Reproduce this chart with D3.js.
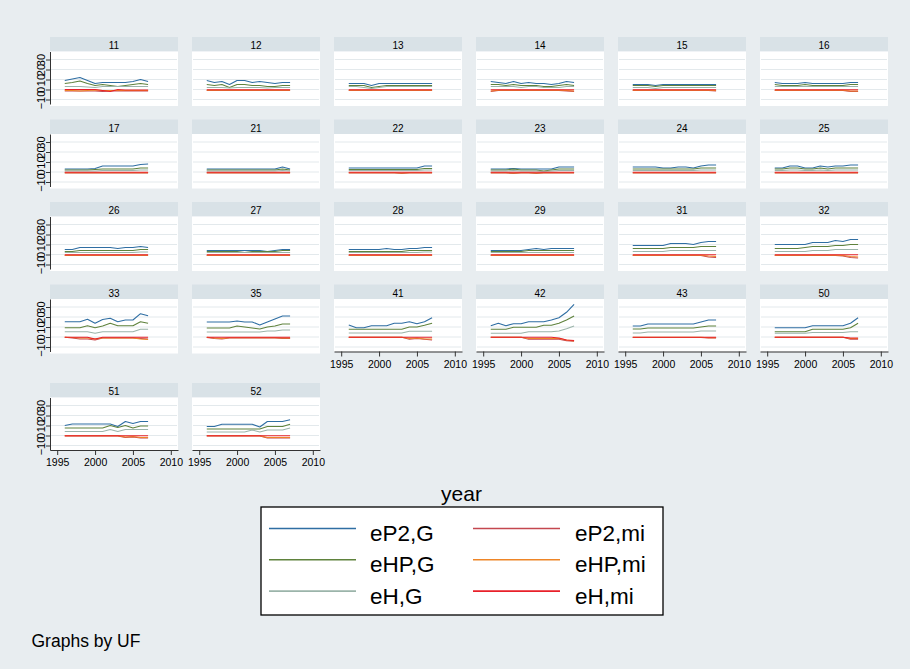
<!DOCTYPE html>
<html>
<head>
<meta charset="utf-8">
<script src="https://cdn.jsdelivr.net/npm/d3@7"></script>
<style>
  body { margin: 0; background: #e8edf0; }
  svg { display: block; }
  text { font-family: "Liberation Sans", Arial, sans-serif; fill: #000; }
</style>
</head>
<body>
<svg id="chart" width="910" height="669"></svg>
<script>
// Panel labels (UF codes), in by-group order
const ufs = ["11","12","13","14","15","16","17","21","22","23","24","25","26","27","28","29","31","32","33","35","41","42","43","50","51","52"];
const years = [1996,1997,1998,1999,2000,2001,2002,2003,2004,2005,2006,2007];
const xTicks = [1995, 2000, 2005, 2010];
const yTicks = [-10, 0, 10, 20, 30];
const seriesNames = ["eP2,G", "eHP,G", "eH,G", "eP2,mi", "eHP,mi", "eH,mi"];
const seriesColors = ["#2f6ea3", "#5f823c", "#9bb4aa", "#c4474f", "#ee8527", "#e8202a"];

// One row of 12 yearly values per UF, same order as ufs
const eP2_G = [
  [9,10.5,12,9,6,7,7,7,7,8,10,8],
  [9,7,8,5,9,9,7,8,7,6,7,7],
  [6,6,6,4,6,6,6,6,6,6,6,6],
  [8,7,6,8,6,7,6,6,5,6,8,7],
  [5,5,5,4,5,5,5,5,5,5,5,5],
  [7,6,6,6,7,6,6,6,6,6,7,7],
  [3,3,3,3,3.5,6,6,6,6,6,7.5,8],
  [3,3,3,3,3,3,3,3,3,3,5,3],
  [4,4,4,4,4,4,4,4,4,4,6,6],
  [3,3,3,3.5,3,3,3,3,3,5,5,5],
  [5,5,5,5,4,4,5,5,4,6,7,7],
  [4,4,6,6,4,4,6,5,6,6,7,7],
  [5,5,7,7,7,7,7,6,7,7,8,7],
  [4,4,4,4,4,4,4,4,3,4,5,5],
  [5,5,5,5,5,6,5,5,6,6,7,7],
  [4,4,4,4,4,5,6,5,6,6,6,6],
  [9,9,9,9,9,11,11,11,10,12,13,13],
  [10,10,10,10,10,12,12,12,14,13,15,15],
  [15.3,15.3,15.3,17.7,13.7,17.5,18.7,15.3,17,17,23.3,21.3],
  [15,15,15,15,16,15,15,12,15,18,21,21],
  [12,9.3,9.3,11.3,11.3,11.3,13.7,13.7,15.3,13.3,15.3,19.3],
  [11.3,13.7,11.3,13.3,13.3,15.3,15.3,15.3,17,19.3,24.7,32.7],
  [11,11,13,13,13,13,13,13,13,15,17,17],
  [9.3,9.3,9.3,9.3,9.3,11.3,11.3,11.3,11.3,11.3,13.7,19.3],
  [10,11.5,11.5,11.5,11.5,11.5,11.5,9,14,12,14,14],
  [9,9,11.3,11.3,11.3,11.3,11.3,8.5,14,14,14,15.8]
];
const eHP_G = [
  [6,7,8.5,6,4,5,4,3,4,5,6,5],
  [5,4,5,2,5,5,4,4,3,3,4,4],
  [4,4,4,2,3,4,4,4,4,4,4,4],
  [5,5,4,5,4,4,4,3,3,4,5,4],
  [4,4,4,3,4,4,4,4,4,4,4,4],
  [5,4,4,4,5,4,4,4,4,4,5,5],
  [2,2,2,2,2.5,3,3,3,3,3,4,4],
  [2,2,2,2,2,2,2,2,2,2,3,2],
  [2.5,2.5,2.5,2.5,2.5,2.5,2.5,2.5,2.5,2.5,3.5,3.5],
  [2,2,2,3,2,2,2,1,2,3,3,3],
  [3,3,3,3,3,3,3,3,3,4,4,4],
  [3,3,4,4,3,3,4,3,4,4,4,4],
  [3,3,4,4,4,4,4,4,4,4,5,5],
  [3,3,3,3,3,2,3,3,3,3,4,4],
  [3,3,3,3,3,3,3,3,4,4,4,4],
  [3,3,3,3,3,4,4,4,4,4,4,4],
  [6,6,6,6,6,7,7,7,7,8,8,8],
  [6,6,6,6,7,8,8,8,9,9,10,10],
  [9.3,9.3,9.3,11.3,9.3,11,13.7,11.3,11.3,11.3,15.3,13.7],
  [9,9,9,9,11,10,9,8,10,11,13,13],
  [7.7,7.7,7.7,7.7,7.7,7.7,7.7,7.7,10,10,11.7,13.7],
  [7.7,7.7,7.7,9.7,9.7,9.7,9.7,11.7,11.7,13.7,17,21],
  [8,8,9,9,9,9,9,9,9,10,11,11],
  [5.3,5.3,5.3,5.3,5.3,7.7,7.7,7.7,7.7,7.7,9.3,13.7],
  [7.5,7.5,7.5,7.5,7.5,7.5,10,8,10,7.5,9.5,9.5],
  [6.5,6.5,6.5,6.5,6.5,6.5,6.5,6.5,9,9,9,11.3]
];
const eH_G = [
  [3,3,3,2.5,2,3,3,3,3,3,3,3],
  [2,2,2,1.5,2,2,2,2,1.5,2,2,2],
  [3,3,2,1,2,3,3,3,3,3,3,3],
  [3,3,3,3,2,3,3,2,2,2,3,3],
  [2,2,2,1,2,2,2,2,2,2,2,2],
  [3,3,3,3,3,3,3,3,3,3,3,3],
  [1,1,1,1,1,1.5,1.5,1.5,1.5,1.5,2,2],
  [1,1,1,1,1,1,1,1,1,1,1.5,1],
  [1.5,1.5,1.5,1.5,1.5,1.5,1.5,1.5,1.5,1.5,2,2],
  [1,1,1,1.5,1,1,1,0.5,1,1.5,1.5,1.5],
  [1.5,1.5,1.5,1.5,1.5,1.5,1.5,1.5,1.5,2,2,2],
  [1.5,1.5,2,2,1.5,1.5,2,1.5,2,2,2,2],
  [2,2,2,2,2,2,2,2,2,2,2.5,2.5],
  [2,2,2,2,2,2,2,2,2,2,2,2],
  [2,2,2,2,2,2,2,2,2,2,2.5,2.5],
  [2,2,2,2,2,2,2,2,2,2,2,2],
  [3,3,3,3,3,4,4,4,4,4,4,4],
  [3,3,3,3,3,4,4,4,5,5,5,5],
  [5.3,5.3,5.3,5.3,3.7,5.3,5.3,5.3,5.3,5.3,7.7,7.7],
  [5,5,5,5,5,5,5,5,6,6,7,7],
  [4,4,4,4,4,4,4,4,5.7,5.7,5.7,5.7],
  [3.7,3.7,3.7,3.7,3.7,5.3,5.3,5.3,5.3,6,8.3,11],
  [4,4,5,5,5,5,5,5,5,6,6,6],
  [3.7,3.7,3.7,3.7,3.7,4.5,4.5,4.5,4.5,4.5,5.3,5.3],
  [4,4,4,4,4,4,6,4,6,6,6,6],
  [3.5,3.5,3.5,3.5,3.5,3.5,5.5,3.5,5.5,5.5,5.5,7.5]
];
const eP2_mi = [
  [-1.5,-1.5,-1.5,-1.5,-1.5,-2,-1.5,-1.5,-1.5,-1.5,-1.5,-1.5],
  [-1,-1,-1,-1,-1,-1,-1,-1,-1,-1,-1,-1],
  [-1,-1,-1,-1,-1,-1,-1,-1,-1,-1,-1,-1],
  [-2,-1,-1,-1,-1,-1,-1,-1,-1,-1,-1.5,-2],
  [-1,-1,-1,-1,-1,-1,-1,-1,-1,-1,-1,-1.5],
  [-1,-1,-1,-1,-1,-1,-1,-1,-1,-1,-2,-2],
  [-1,-1,-1,-1,-1,-1,-1,-1,-1,-1,-1,-1],
  [-1,-1,-1,-1,-1,-1,-1,-1,-1,-1,-1,-1],
  [-1,-1,-1,-1,-1,-1,-1,-1.5,-1,-1,-1,-1],
  [-1,-1,-1,-1.5,-1,-1,-1.5,-1,-1,-1,-1,-1],
  [-1,-1,-1,-1,-1,-1,-1,-1,-1,-1,-1,-1],
  [-1,-1,-1,-1,-1,-1,-1,-1,-1,-1,-1,-1],
  [-1,-1,-1,-1,-1,-1,-1,-1,-1,-1,-1,-1],
  [-1,-1,-1,-1,-1,-1,-1,-1,-1,-1,-1,-1],
  [-1,-1,-1,-1,-1,-1,-1,-1,-1,-1,-1,-1],
  [-1,-1,-1,-1,-1,-1,-1,-1,-1,-1,-1,-1],
  [-1,-1,-1,-1,-1,-1,-1,-1,-1,-1,-2.5,-3],
  [-1,-1,-1,-1,-1,-1,-1,-1,-1,-1.5,-3,-3.5],
  [-0.3,-1,-2,-2,-3,-1,-1,-1,-1,-1,-1.5,-2],
  [-0.5,-1.5,-2,-1,-1,-1,-1,-1,-1,-1,-1.5,-1.5],
  [-0.3,-0.3,-0.3,-0.3,-0.3,-0.3,-0.3,-0.3,-2.3,-1.5,-2.3,-3],
  [-0.3,-0.3,-0.3,-0.3,-0.3,-2.3,-2.3,-2.3,-2.3,-2.3,-3.7,-4.3],
  [-0.5,-0.5,-0.5,-0.5,-0.5,-0.5,-0.5,-0.5,-0.5,-0.5,-1,-1],
  [-0.3,-0.3,-0.3,-0.3,-0.3,-0.3,-0.3,-0.3,-0.3,-0.3,-2.3,-2.3],
  [-0.5,-0.5,-0.5,-0.5,-0.5,-0.5,-0.5,-0.5,-2,-1.5,-2.5,-2.5],
  [-0.5,-0.5,-0.5,-0.5,-0.5,-0.5,-0.5,-0.5,-2.5,-2.5,-2.5,-2.5]
];
const eHP_mi = [
  [-1,-1,-1.5,-1,-0.5,-1,-1,-1,-1,-1,-1,-1],
  [-0.7,-0.7,-0.7,-0.7,-0.7,-0.7,-0.7,-0.7,-0.7,-0.7,-0.7,-0.7],
  [-0.7,-0.7,-0.7,-0.7,-0.7,-0.7,-0.7,-0.7,-0.7,-0.7,-0.7,-0.7],
  [-1.5,-0.7,-0.7,-0.7,-0.7,-0.7,-0.7,-0.7,-0.7,-0.7,-1,-1.5],
  [-0.7,-0.7,-0.7,-0.7,-0.7,-0.7,-0.7,-0.7,-0.7,-0.7,-0.7,-1],
  [-0.7,-0.7,-0.7,-0.7,-0.7,-0.7,-0.7,-0.7,-0.7,-0.7,-1.5,-1.5],
  [-0.7,-0.7,-0.7,-0.7,-0.7,-0.7,-0.7,-0.7,-0.7,-0.7,-0.7,-0.7],
  [-0.7,-0.7,-0.7,-0.7,-0.7,-0.7,-0.7,-0.7,-0.7,-0.7,-0.7,-0.7],
  [-0.7,-0.7,-0.7,-0.7,-0.7,-0.7,-0.7,-1,-0.7,-0.7,-0.7,-0.7],
  [-0.7,-0.7,-0.7,-1,-0.7,-0.7,-1,-0.7,-0.7,-0.7,-0.7,-0.7],
  [-0.7,-0.7,-0.7,-0.7,-0.7,-0.7,-0.7,-0.7,-0.7,-0.7,-0.7,-0.7],
  [-0.7,-0.7,-0.7,-0.7,-0.7,-0.7,-0.7,-0.7,-0.7,-0.7,-0.7,-0.7],
  [-0.7,-0.7,-0.7,-0.7,-0.7,-0.7,-0.7,-0.7,-0.7,-0.7,-0.7,-0.7],
  [-0.7,-0.7,-0.7,-0.7,-0.7,-0.7,-0.7,-0.7,-0.7,-0.7,-0.7,-0.7],
  [-0.7,-0.7,-0.7,-0.7,-0.7,-0.7,-0.7,-0.7,-0.7,-0.7,-0.7,-0.7],
  [-0.7,-0.7,-0.7,-0.7,-0.7,-0.7,-0.7,-0.7,-0.7,-0.7,-0.7,-0.7],
  [-0.7,-0.7,-0.7,-0.7,-0.7,-0.7,-0.7,-0.7,-0.7,-0.7,-1.5,-2],
  [-0.7,-0.7,-0.7,-0.7,-0.7,-0.7,-0.7,-0.7,-0.7,-1,-2,-2.5],
  [-0.3,-0.5,-1,-1,-2,-1,-1,-1,-1,-1,-2,-2.5],
  [-0.3,-1,-1.5,-0.7,-0.7,-0.7,-0.7,-0.7,-0.7,-0.7,-1,-1],
  [-0.3,-0.3,-0.3,-0.3,-0.3,-0.3,-0.3,-0.3,-1.5,-1,-2,-2],
  [-0.3,-0.3,-0.3,-0.3,-0.3,-1.5,-1.5,-1.5,-1.5,-1.5,-3,-4],
  [-0.3,-0.3,-0.3,-0.3,-0.3,-0.3,-0.3,-0.3,-0.3,-0.3,-0.7,-0.7],
  [-0.3,-0.3,-0.3,-0.3,-0.3,-0.3,-0.3,-0.3,-0.3,-0.3,-1.5,-1.5],
  [-0.3,-0.3,-0.3,-0.3,-0.3,-0.3,-0.3,-0.3,-1.5,-1,-2,-2],
  [-0.3,-0.3,-0.3,-0.3,-0.3,-0.3,-0.3,-0.3,-2,-2,-2,-2]
];
const eH_mi = [
  [0,0,0,0,0,-1,-2,0,-0.5,-0.5,-0.5,-0.5],
  [-0.3,-0.3,-0.3,-0.3,-0.3,-0.3,-0.3,-0.3,-0.3,-0.3,-0.3,-0.3],
  [-0.3,-0.3,-0.3,-0.3,-0.3,-0.3,-0.3,-0.3,-0.3,-0.3,-0.3,-0.3],
  [-0.3,-0.3,-0.3,-0.3,-0.3,-0.3,-0.3,-0.3,-0.3,-0.3,-0.3,-0.3],
  [-0.3,-0.3,-0.3,-0.3,-0.3,-0.3,-0.3,-0.3,-0.3,-0.3,-0.3,-0.3],
  [-0.3,-0.3,-0.3,-0.3,-0.3,-0.3,-0.3,-0.3,-0.3,-0.3,-0.3,-0.3],
  [-0.3,-0.3,-0.3,-0.3,-0.3,-0.3,-0.3,-0.3,-0.3,-0.3,-0.3,-0.3],
  [-0.3,-0.3,-0.3,-0.3,-0.3,-0.3,-0.3,-0.3,-0.3,-0.3,-0.3,-0.3],
  [-0.3,-0.3,-0.3,-0.3,-0.3,-0.3,-0.3,-0.3,-0.3,-0.3,-0.3,-0.3],
  [-0.3,-0.3,-0.3,-0.3,-0.3,-0.3,-0.3,-0.3,-0.3,-0.3,-0.3,-0.3],
  [-0.3,-0.3,-0.3,-0.3,-0.3,-0.3,-0.3,-0.3,-0.3,-0.3,-0.3,-0.3],
  [-0.3,-0.3,-0.3,-0.3,-0.3,-0.3,-0.3,-0.3,-0.3,-0.3,-0.3,-0.3],
  [-0.3,-0.3,-0.3,-0.3,-0.3,-0.3,-0.3,-0.3,-0.3,-0.3,-0.3,-0.3],
  [-0.3,-0.3,-0.3,-0.3,-0.3,-0.3,-0.3,-0.3,-0.3,-0.3,-0.3,-0.3],
  [-0.3,-0.3,-0.3,-0.3,-0.3,-0.3,-0.3,-0.3,-0.3,-0.3,-0.3,-0.3],
  [-0.3,-0.3,-0.3,-0.3,-0.3,-0.3,-0.3,-0.3,-0.3,-0.3,-0.3,-0.3],
  [-0.3,-0.3,-0.3,-0.3,-0.3,-0.3,-0.3,-0.3,-0.3,-0.3,-0.3,-0.3],
  [-0.3,-0.3,-0.3,-0.3,-0.3,-0.3,-0.3,-0.3,-0.3,-0.3,-0.3,-0.3],
  [-0.3,-0.3,-0.3,-0.3,-2,-0.3,-0.3,-0.3,-0.3,-0.3,-0.3,-0.3],
  [-0.3,-0.3,-0.3,-0.3,-0.3,-0.3,-0.3,-0.3,-0.3,-0.3,-0.3,-0.3],
  [-0.3,-0.3,-0.3,-0.3,-0.3,-0.3,-0.3,-0.3,-0.3,-0.3,-0.3,-0.3],
  [-0.3,-0.3,-0.3,-0.3,-0.3,-0.3,-0.3,-0.3,-0.3,-1,-3,-3.5],
  [-0.3,-0.3,-0.3,-0.3,-0.3,-0.3,-0.3,-0.3,-0.3,-0.3,-0.3,-0.3],
  [-0.3,-0.3,-0.3,-0.3,-0.3,-0.3,-0.3,-0.3,-0.3,-0.3,-1,-1],
  [-0.3,-0.3,-0.3,-0.3,-0.3,-0.3,-0.3,-0.3,-0.3,-0.3,-0.3,-0.3],
  [-0.3,-0.3,-0.3,-0.3,-0.3,-0.3,-0.3,-0.3,-0.3,-0.3,-0.3,-0.3]
];
const seriesData = [eP2_G, eHP_G, eH_G, eP2_mi, eHP_mi, eH_mi];

// ---- layout ----
const W = 910, H = 669;
const nCols = 6;
const colLeft = c => 50 + 142 * c;
const rowTop = [37, 119.5, 202, 284.5, 383];
const panelW = 128, stripH = 14.5, plotBottom = 67;

const svg = d3.select("#chart");
svg.append("rect").attr("width", W).attr("height", H).attr("fill", "#e8edf0");

const line = (x, y) => d3.line().x((d, i) => x(years[i])).y(d => y(d));

ufs.forEach((uf, i) => {
  const col = i % nCols, row = Math.floor(i / nCols);
  const left = colLeft(col), top = rowTop[row];
  const hasX = i + nCols >= ufs.length;
  const hasY = col === 0;

  const x = d3.scaleLinear().domain([1994.05, 2010.95]).range([left, left + panelW]);
  const y = d3.scaleLinear().domain([-14.5, 38]).range([top + plotBottom, top + stripH]);

  const g = svg.append("g");

  // strip with the group label
  g.append("rect").attr("x", left).attr("y", top).attr("width", panelW).attr("height", stripH)
    .attr("fill", "#d9e2e7");
  g.append("text").attr("x", left + panelW / 2).attr("y", top + 12)
    .attr("text-anchor", "middle").attr("font-size", 10).text(uf);

  // plot region
  g.append("rect").attr("x", left).attr("y", top + stripH).attr("width", panelW)
    .attr("height", (hasX ? plotBottom : plotBottom + 2) - stripH).attr("fill", "#fff");

  // horizontal grid
  g.selectAll(".grid").data(yTicks).join("line")
    .attr("x1", left + 1).attr("x2", left + panelW - 1)
    .attr("y1", d => y(d)).attr("y2", d => y(d))
    .attr("stroke", "#e3e9ec").attr("stroke-width", 1);

  // series
  seriesData.forEach((s, k) => {
    g.append("path").datum(s[i])
      .attr("d", line(x, y))
      .attr("fill", "none")
      .attr("stroke", seriesColors[k])
      .attr("stroke-width", 1.1)
      .attr("stroke-linejoin", "round");
  });

  if (hasY) {
    const ay = g.append("g").attr("transform", `translate(${left},0)`)
      .call(d3.axisLeft(y).tickValues(yTicks).tickSize(4).tickSizeOuter(0));
    ay.select(".domain").attr("stroke", "#333");
    ay.selectAll(".tick line").attr("stroke", "#333");
    ay.selectAll(".tick text")
      .attr("x", null).attr("dy", null)
      .attr("text-anchor", "middle")
      .attr("transform", "translate(-5,0) rotate(-90)")
      .attr("font-size", 11)
      .attr("font-family", '"Liberation Sans", Arial, sans-serif')
      .attr("fill", "#000");
  }
  if (hasX) {
    const ax = g.append("g").attr("transform", `translate(0,${top + plotBottom})`)
      .call(d3.axisBottom(x).tickValues(xTicks).tickFormat(d3.format("d")).tickSize(5).tickSizeOuter(0).tickPadding(4));
    ax.select(".domain").attr("stroke", "#333");
    ax.selectAll(".tick line").attr("stroke", "#333");
    ax.selectAll(".tick text")
      .attr("font-size", 10.5)
      .attr("font-family", '"Liberation Sans", Arial, sans-serif')
      .attr("fill", "#000");
  }
});

// x-axis title
svg.append("text").attr("x", 461.5).attr("y", 501).attr("text-anchor", "middle")
  .attr("font-size", 21).text("year");

// legend
const lg = svg.append("g");
lg.append("rect").attr("x", 261).attr("y", 507).attr("width", 402).attr("height", 108)
  .attr("fill", "#fff").attr("stroke", "#000").attr("stroke-width", 1.3);
const legendCols = [{ x1: 269, x2: 356, tx: 370 }, { x1: 473, x2: 560, tx: 575 }];
seriesNames.forEach((name, k) => {
  const c = legendCols[Math.floor(k / 3)];
  const baseline = 541 + 31.3 * (k % 3);
  const ly = baseline - 12.5;
  lg.append("line").attr("x1", c.x1).attr("x2", c.x2).attr("y1", ly).attr("y2", ly)
    .attr("stroke", seriesColors[k]).attr("stroke-width", 1.6);
  lg.append("text").attr("x", c.tx).attr("y", baseline).attr("font-size", 22.5).text(name);
});

// note
svg.append("text").attr("x", 31.5).attr("y", 646.5).attr("font-size", 17.5).text("Graphs by UF");
</script>
</body>
</html>
